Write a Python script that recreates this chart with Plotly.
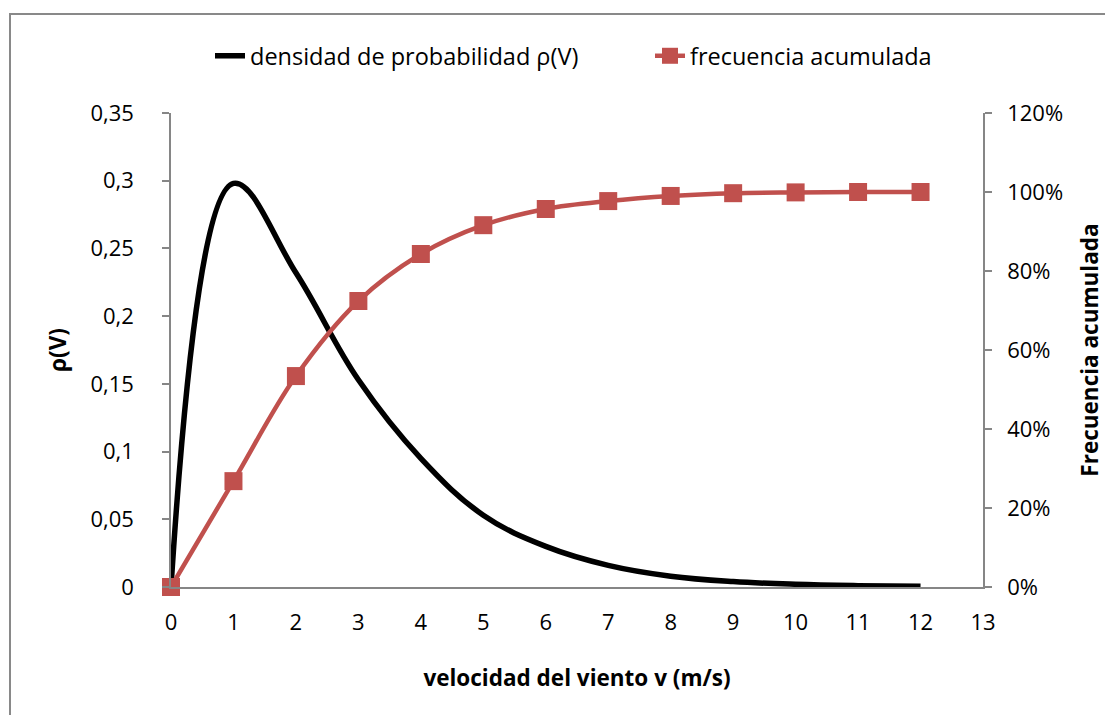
import plotly.graph_objects as go

# ---- data ----
velocidad = [0, 1, 2, 3, 4, 5, 6, 7, 8, 9, 10, 11, 12]
densidad = [0, 0.298, 0.232, 0.153, 0.095, 0.053, 0.030, 0.016, 0.008, 0.004, 0.002, 0.001, 0.0005]
frecuencia = [0, 0.268, 0.534, 0.724, 0.843, 0.916, 0.957, 0.977, 0.99, 0.997, 0.999, 1.0, 1.0]

y_tickvals = [0, 0.05, 0.1, 0.15, 0.2, 0.25, 0.3, 0.35]
y_ticktext = ["0", "0,05", "0,1", "0,15", "0,2", "0,25", "0,3", "0,35"]
y2_tickvals = [0, 0.2, 0.4, 0.6, 0.8, 1.0, 1.2]
y2_ticktext = ["0%", "20%", "40%", "60%", "80%", "100%", "120%"]
x_tickvals = list(range(0, 14))

FONT = "Open Sans, Noto Sans, sans-serif"
AXIS_COLOR = "#868686"

fig = go.Figure()
fig.add_trace(go.Scatter(
    x=velocidad, y=densidad, name="densidad de probabilidad ρ(V)",
    mode="lines", line=dict(color="black", width=5.5, shape="spline", smoothing=1.1),
    yaxis="y", cliponaxis=False, legend="legend",
))
fig.add_trace(go.Scatter(
    x=velocidad, y=frecuencia, name="frecuencia acumulada",
    mode="lines+markers",
    line=dict(color="#C0504D", width=4.5, shape="spline", smoothing=1),
    marker=dict(symbol="square", size=18, color="#C0504D"),
    yaxis="y2", cliponaxis=False, legend="legend2",
))

W, H = 1105, 715
PL, PR, PT, PB = 171, 983, 113, 587  # plot area in page pixels
L, T = PL, PT
R = W - PR
B = H - PB
pw, ph = PR - PL, PB - PT

legend_common = dict(
    orientation="h", xanchor="left", y=(PB - 56) / ph, yanchor="middle",
    font=dict(size=23.5), bgcolor="rgba(0,0,0,0)",
)

fig.update_layout(
    width=W, height=H,
    margin=dict(l=L, r=R, t=T, b=B, pad=0, autoexpand=False),
    paper_bgcolor="white", plot_bgcolor="white",
    font=dict(family=FONT, size=22, color="black"),
    showlegend=True,
    legend=dict(x=(210 - PL) / pw, **legend_common),
    legend2=dict(x=(650 - PL) / pw, **legend_common),
    xaxis=dict(
        range=[0, 13], tickvals=x_tickvals, showgrid=False, zeroline=False,
        showline=True, linecolor=AXIS_COLOR, linewidth=1.5, ticks="",
        ticklabelstandoff=15, automargin=False,
        title=dict(text="velocidad del viento v (m/s)", font=dict(size=22.5, weight="bold"), standoff=35),
    ),
    yaxis=dict(
        range=[0, 0.35], tickvals=y_tickvals, ticktext=y_ticktext,
        showgrid=False, zeroline=False, showline=True, linecolor=AXIS_COLOR, linewidth=1.5,
        ticks="outside", ticklen=7, tickcolor=AXIS_COLOR, tickwidth=1.5,
        ticklabelstandoff=24, automargin=False,
        title=dict(text="ρ(V)", font=dict(size=22.5, weight="bold"), standoff=18),
    ),
    yaxis2=dict(
        range=[0, 1.2], tickvals=y2_tickvals, ticktext=y2_ticktext,
        overlaying="y", side="right", anchor="x",
        showgrid=False, zeroline=False, showline=True, linecolor=AXIS_COLOR, linewidth=1.5,
        ticks="outside", ticklen=7, tickcolor=AXIS_COLOR, tickwidth=1.5,
        ticklabelstandoff=11, automargin=False,
        title=dict(text="Frecuencia acumulada", font=dict(size=22.5, weight="bold"), standoff=28),
    ),
    shapes=[dict(
        type="rect", xref="paper", yref="paper", layer="below",
        x0=(10 - PL) / pw, x1=1.4, y0=-0.5, y1=(PB - 14) / ph,
        line=dict(color="#898989", width=2), fillcolor="rgba(0,0,0,0)",
    )],
)

fig.write_html(
    "out.html",
    config={"displayModeBar": False},
    post_script="document.body.style.margin='0';document.body.style.overflow='hidden';",
)
